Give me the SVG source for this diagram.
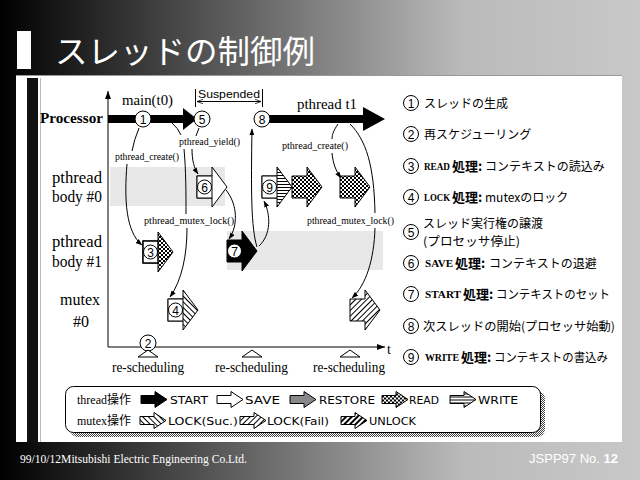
<svg xmlns="http://www.w3.org/2000/svg" width="640" height="480" viewBox="0 0 640 480">
<defs>
<linearGradient id="bg" x1="0" y1="0" x2="640" y2="0" gradientUnits="userSpaceOnUse">
<stop offset="0" stop-color="#000"/>
<stop offset="0.72" stop-color="#bababa"/>
<stop offset="1" stop-color="#c8c8c8"/>
</linearGradient>
<pattern id="chk" width="4" height="4" patternUnits="userSpaceOnUse"><rect width="4" height="4" fill="#fff"/><rect width="2" height="2" fill="#000"/><rect x="2" y="2" width="2" height="2" fill="#000"/></pattern>
<pattern id="hz" width="4" height="3" patternUnits="userSpaceOnUse"><rect width="4" height="3" fill="#fff"/><rect width="4" height="1" fill="#000"/></pattern>
<pattern id="bsl" width="4" height="4" patternUnits="userSpaceOnUse" patternTransform="rotate(-45)"><rect width="4" height="4" fill="#fff"/><rect width="1" height="4" fill="#000"/></pattern>
<pattern id="fsl" width="4" height="4" patternUnits="userSpaceOnUse" patternTransform="rotate(45)"><rect width="4" height="4" fill="#fff"/><rect width="1" height="4" fill="#000"/></pattern>
<pattern id="fsl2" width="4" height="4" patternUnits="userSpaceOnUse" patternTransform="rotate(45)"><rect width="4" height="4" fill="#fff"/><rect width="2" height="4" fill="#000"/></pattern>
<pattern id="dots" width="2" height="2" patternUnits="userSpaceOnUse"><rect width="2" height="2" fill="#fff"/><rect width="1" height="1" fill="#444"/><rect x="1" y="1" width="1" height="1" fill="#444"/></pattern>
<marker id="ah" viewBox="0 0 8 6" refX="7.5" refY="3" markerWidth="7" markerHeight="5" orient="auto" markerUnits="userSpaceOnUse"><path d="M0,0 L8,3 L0,6 z" fill="#000"/></marker>
<marker id="ax" viewBox="0 0 8 6" refX="8" refY="3" markerWidth="8" markerHeight="6" orient="auto" markerUnits="userSpaceOnUse"><path d="M0,0 L8,3 L0,6 z" fill="#000"/></marker>
<marker id="sa" viewBox="0 0 8 6" refX="8" refY="3" markerWidth="6" markerHeight="5" orient="auto-start-reverse" markerUnits="userSpaceOnUse"><path d="M0,0 L8,3 L0,6" fill="none" stroke="#000"/></marker>
<path id="ba" d="M0,-11H15V-20L30,0L15,20V11H0Z"/>
<path id="la" d="M0,-4H14V-8L26,0L14,8V4H0Z"/>
</defs>
<style>
.lab{font-family:"Liberation Serif",serif;fill:#000}
.sm{font-size:10px}
.jp{font-family:"Noto Sans CJK JP",sans-serif;fill:#000;font-size:12px}
.jb{font-family:"Noto Sans CJK JP",sans-serif;font-weight:bold;font-size:13px}
.eb{font-family:"Liberation Serif",serif;font-weight:bold;font-size:10px}
.conn path{fill:none;stroke:#000;stroke-width:1}
.cn{fill:#fff;stroke:#000;stroke-width:1}
.num{font-family:"Liberation Sans",sans-serif;font-size:12px;text-anchor:middle;fill:#000}
.bs{stroke:#000;stroke-width:1}
.leg{font-family:"DejaVu Sans",sans-serif;font-size:10px;fill:#000}
</style>

<rect width="640" height="480" fill="url(#bg)"/>

<g id="title">
<rect x="17" y="31" width="14" height="38" fill="#fff"/>
<text x="55" y="63" font-family="Noto Sans CJK JP, sans-serif" font-size="32" fill="#fff" textLength="260" lengthAdjust="spacingAndGlyphs">スレッドの制御例</text>
</g>

<g id="panel">
<rect x="16" y="75" width="606" height="367" fill="#fff"/>
<line x1="16" y1="75.5" x2="622" y2="75.5" stroke="#999"/>
<rect x="27" y="78" width="11" height="364" fill="#111"/>
<line x1="40.5" y1="78" x2="40.5" y2="442" stroke="#bbb"/>
</g>

<g id="bands">
<rect x="110" y="167" width="115" height="39" fill="#e8e8e8"/>
<rect x="227" y="231" width="156" height="39" fill="#e8e8e8"/>
</g>

<g id="axes">
<line x1="108" y1="347" x2="108" y2="91" stroke="#000" marker-end="url(#ax)"/>
<line x1="108" y1="347" x2="385" y2="347" stroke="#000" marker-end="url(#ax)"/>
<text class="lab" x="387" y="354" font-size="14">t</text>
</g>

<g id="row-labels" class="lab">
<text x="40" y="123" font-size="15" font-weight="bold" textLength="63" lengthAdjust="spacingAndGlyphs">Processor</text>
<text x="52" y="183" font-size="16" textLength="50" lengthAdjust="spacingAndGlyphs">pthread</text>
<text x="52" y="202" font-size="16" textLength="50" lengthAdjust="spacingAndGlyphs">body #0</text>
<text x="52" y="247" font-size="16" textLength="50" lengthAdjust="spacingAndGlyphs">pthread</text>
<text x="52" y="267" font-size="16" textLength="50" lengthAdjust="spacingAndGlyphs">body #1</text>
<text x="60" y="305" font-size="16" textLength="40" lengthAdjust="spacingAndGlyphs">mutex</text>
<text x="73" y="327" font-size="16" textLength="16" lengthAdjust="spacingAndGlyphs">#0</text>
</g>

<g id="processor">
<rect x="108" y="115" width="77" height="8" fill="#000"/>
<polygon points="183,108 197,119 183,130" fill="#000"/>
<rect x="268" y="115" width="97" height="8" fill="#000"/>
<polygon points="363,107 385,119 363,131" fill="#000"/>
<text class="lab" x="122" y="105" font-size="14" textLength="51" lengthAdjust="spacingAndGlyphs">main(t0)</text>
<text class="lab" x="297" y="109" font-size="14" textLength="60" lengthAdjust="spacingAndGlyphs">pthread t1</text>
</g>

<g id="suspended">
<line x1="195.5" y1="89" x2="195.5" y2="107" stroke="#000"/>
<line x1="262.5" y1="89" x2="262.5" y2="107" stroke="#000"/>
<line x1="197" y1="101.5" x2="261" y2="101.5" stroke="#000" marker-start="url(#sa)" marker-end="url(#sa)"/>
<text x="198" y="98" font-family="Liberation Sans, sans-serif" font-size="11" textLength="62" lengthAdjust="spacingAndGlyphs">Suspended</text>
</g>

<g id="n1"><circle class="cn" cx="143" cy="119" r="8"/><text class="num" x="143" y="123.5">1</text></g>
<g id="n5"><circle class="cn" cx="202" cy="119" r="8"/><text class="num" x="202" y="123.5">5</text></g>
<g id="n8"><circle class="cn" cx="262" cy="119" r="8"/><text class="num" x="262" y="123.5">8</text></g>
<g id="n2">
<circle class="cn" cx="148" cy="343" r="8"/><text class="num" x="148" y="347.5">2</text>
</g>

<g id="n6">
<use href="#ba" x="197" y="187" fill="#fff" class="bs"/>
<rect x="197" y="176" width="15" height="22" fill="#fff" stroke="#000"/>
<circle class="cn" cx="204.5" cy="187" r="7"/><text class="num" x="204.5" y="191.5">6</text>
</g>
<g id="n9">
<use href="#ba" x="262" y="187" fill="url(#hz)" class="bs"/>
<rect x="262" y="176" width="15" height="22" fill="#fff" stroke="#000"/>
<circle class="cn" cx="269.5" cy="187" r="7"/><text class="num" x="269.5" y="191.5">9</text>
</g>
<g id="read1"><use href="#ba" x="292" y="187" fill="url(#chk)" class="bs"/></g>
<g id="read2"><use href="#ba" x="340" y="187" fill="url(#chk)" class="bs"/></g>
<g id="n3">
<use href="#ba" x="143" y="252" fill="url(#chk)" class="bs"/>
<rect x="143" y="241" width="15" height="22" fill="#fff" stroke="#000" stroke-width="1.5"/>
<circle class="cn" cx="150.5" cy="252" r="7"/><text class="num" x="150.5" y="256.5">3</text>
</g>
<g id="n7">
<use href="#ba" x="227" y="251" fill="#000" class="bs"/>
<circle class="cn" cx="234.5" cy="251" r="7"/><text class="num" x="234.5" y="255.5">7</text>
</g>
<g id="n4">
<use href="#ba" x="168" y="310" fill="url(#bsl)" class="bs"/>
<rect x="168" y="299" width="15" height="22" fill="#fff" stroke="#000"/>
<circle class="cn" cx="175.5" cy="310" r="7"/><text class="num" x="175.5" y="314.5">4</text>
</g>
<g id="lockfail"><use href="#ba" x="350" y="310" fill="url(#fsl)" class="bs"/></g>

<g id="resched">
<polygon points="138,357 148,350 158,357" fill="#fff" stroke="#000"/>
<polygon points="242,357 252,350 262,357" fill="#fff" stroke="#000"/>
<polygon points="340,357 350,350 360,357" fill="#fff" stroke="#000"/>
<text class="lab" x="112" y="372" font-size="14" textLength="72" lengthAdjust="spacingAndGlyphs">re-scheduling</text>
<text class="lab" x="215" y="372" font-size="14" textLength="73" lengthAdjust="spacingAndGlyphs">re-scheduling</text>
<text class="lab" x="313" y="372" font-size="14" textLength="72" lengthAdjust="spacingAndGlyphs">re-scheduling</text>
</g>

<g id="call-labels" class="lab sm">
<text x="115" y="160" textLength="64" lengthAdjust="spacingAndGlyphs">pthread_create()</text>
<text x="179" y="145" textLength="61" lengthAdjust="spacingAndGlyphs">pthread_yield()</text>
<text x="282" y="149" textLength="66" lengthAdjust="spacingAndGlyphs">pthread_create()</text>
<text x="144" y="224" textLength="90" lengthAdjust="spacingAndGlyphs">pthread_mutex_lock()</text>
<text x="307" y="224" textLength="87" lengthAdjust="spacingAndGlyphs">pthread_mutex_lock()</text>
</g>

<g id="connectors" class="conn">
<path d="M139,128 Q134,140 132,151"/>
<path d="M127,164 C124,200 126,232 142,245" marker-end="url(#ah)"/>
<path d="M172,123 Q178,128 181,135"/>
<path d="M184,149 C186,170 186,195 186,214"/>
<path d="M187,228 C187,255 182,280 170,297" marker-end="url(#ah)"/>
<path d="M199,128 L196,136"/>
<path d="M192,149 C192,160 194,168 198,174" marker-end="url(#ah)"/>
<path d="M226,190 C238,205 238,226 229,239" marker-end="url(#ah)"/>
<path d="M257,247 C251,228 251,190 252,129" marker-end="url(#ah)"/>
<path d="M259,246 C271,235 271,215 264,201" marker-end="url(#ah)"/>
<path d="M338,124 C334,130 332,134 332,139"/>
<path d="M332,153 C333,164 336,171 341,178" marker-end="url(#ah)"/>
<path d="M350,124 C366,140 374,165 375,213"/>
<path d="M375,228 C374,260 366,285 352,298" marker-end="url(#ah)"/>
</g>

<g id="list">
<g><circle class="cn" cx="411" cy="103" r="7.5"/><text class="num" x="411" y="107.5">1</text>
<text class="jp" x="424" y="108">スレッドの生成</text></g>
<g><circle class="cn" cx="411" cy="134" r="7.5"/><text class="num" x="411" y="138.5">2</text>
<text class="jp" x="424" y="139">再スケジューリング</text></g>
<g><circle class="cn" cx="411" cy="166" r="7.5"/><text class="num" x="411" y="170.5">3</text>
<text class="eb" x="424" y="170" textLength="26" lengthAdjust="spacingAndGlyphs">READ</text>
<text class="jb" x="452" y="171">処理:</text>
<text class="jp" x="485" y="171">コンテキストの読込み</text></g>
<g><circle class="cn" cx="411" cy="197" r="7.5"/><text class="num" x="411" y="201.5">4</text>
<text class="eb" x="424" y="201" textLength="26" lengthAdjust="spacingAndGlyphs">LOCK</text>
<text class="jb" x="452" y="202">処理:</text>
<text class="jp" x="485" y="202">mutexのロック</text></g>
<g><circle class="cn" cx="411" cy="232" r="7.5"/><text class="num" x="411" y="236.5">5</text>
<text class="jp" x="423" y="228">スレッド実行権の譲渡</text>
<text class="jp" x="423" y="246" textLength="97" lengthAdjust="spacingAndGlyphs">(プロセッサ停止)</text></g>
<g><circle class="cn" cx="411" cy="263" r="7.5"/><text class="num" x="411" y="267.5">6</text>
<text class="eb" x="425" y="267" textLength="28" lengthAdjust="spacingAndGlyphs">SAVE</text>
<text class="jb" x="455" y="268">処理:</text>
<text class="jp" x="489" y="268">コンテキストの退避</text></g>
<g><circle class="cn" cx="411" cy="294" r="7.5"/><text class="num" x="411" y="298.5">7</text>
<text class="eb" x="425" y="298" textLength="36" lengthAdjust="spacingAndGlyphs">START</text>
<text class="jb" x="463" y="299">処理:</text>
<text class="jp" x="496" y="299" textLength="114" lengthAdjust="spacingAndGlyphs">コンテキストのセット</text></g>
<g><circle class="cn" cx="411" cy="326" r="7.5"/><text class="num" x="411" y="330.5">8</text>
<text class="jp" x="423" y="331" textLength="192" lengthAdjust="spacingAndGlyphs">次スレッドの開始(プロセッサ始動)</text></g>
<g><circle class="cn" cx="411" cy="357" r="7.5"/><text class="num" x="411" y="361.5">9</text>
<text class="eb" x="425" y="361" textLength="34" lengthAdjust="spacingAndGlyphs">WRITE</text>
<text class="jb" x="461" y="362">処理:</text>
<text class="jp" x="494" y="362" textLength="114" lengthAdjust="spacingAndGlyphs">コンテキストの書込み</text></g>
</g>

<g id="legend">
<rect x="70" y="391" width="475" height="46" rx="8" fill="url(#dots)"/>
<rect x="65.5" y="386.5" width="475" height="46" rx="8" fill="#fff" stroke="#000"/>
<text x="77" y="404" font-size="12"><tspan font-family="Liberation Serif, serif">thread</tspan><tspan font-family="Noto Sans CJK JP, sans-serif">操作</tspan></text>
<use href="#la" x="141" y="399.5" fill="#000" class="bs"/>
<text class="leg" x="170" y="404" textLength="38" lengthAdjust="spacingAndGlyphs">START</text>
<use href="#la" x="217" y="399.5" fill="#fff" class="bs"/>
<text class="leg" x="245" y="404" textLength="35" lengthAdjust="spacingAndGlyphs">SAVE</text>
<use href="#la" x="290" y="399.5" fill="#888" class="bs"/>
<text class="leg" x="319" y="404" textLength="56" lengthAdjust="spacingAndGlyphs">RESTORE</text>
<use href="#la" x="382" y="399.5" fill="url(#chk)" class="bs"/>
<text class="leg" x="409" y="404" textLength="30" lengthAdjust="spacingAndGlyphs">READ</text>
<use href="#la" x="450" y="399.5" fill="url(#hz)" class="bs"/>
<text class="leg" x="478" y="404" textLength="40" lengthAdjust="spacingAndGlyphs">WRITE</text>
<text x="77" y="425" font-size="12"><tspan font-family="Liberation Serif, serif">mutex</tspan><tspan font-family="Noto Sans CJK JP, sans-serif">操作</tspan></text>
<use href="#la" x="140" y="420.5" fill="url(#bsl)" class="bs"/>
<text class="leg" x="168" y="425" textLength="70" lengthAdjust="spacingAndGlyphs">LOCK(Suc.)</text>
<use href="#la" x="240" y="420.5" fill="url(#fsl)" class="bs"/>
<text class="leg" x="267" y="425" textLength="62" lengthAdjust="spacingAndGlyphs">LOCK(Fail)</text>
<use href="#la" x="341" y="420.5" fill="url(#fsl2)" class="bs"/>
<text class="leg" x="369" y="425" textLength="47" lengthAdjust="spacingAndGlyphs">UNLOCK</text>
</g>

<g id="footer">
<text x="20" y="463" font-family="Liberation Serif, serif" font-size="12" fill="#fff" textLength="227" lengthAdjust="spacingAndGlyphs">99/10/12Mitsubishi Electric Engineering Co.Ltd.</text>
<text x="618" y="463" text-anchor="end" font-family="Liberation Sans, sans-serif" font-size="13" fill="#fff">JSPP97 No. <tspan font-weight="bold">12</tspan></text>
</g>
</svg>
